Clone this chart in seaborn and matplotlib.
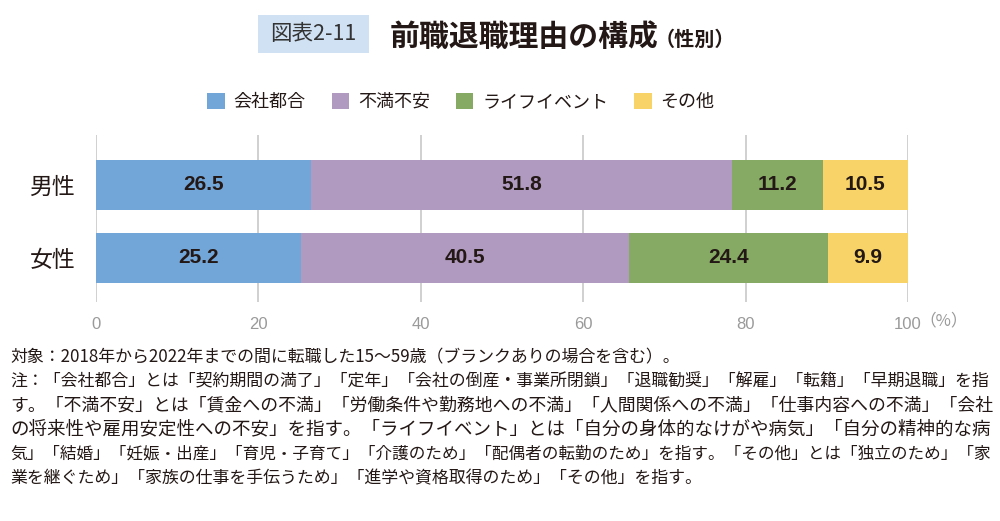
import matplotlib.pyplot as plt
import matplotlib.patches as mpatches
import pandas as pd
import seaborn as sns

# data
genders = ['男性', '女性']
reasons = ['会社都合', '不満不安', 'ライフイベント', 'その他']
male = [26.5, 51.8, 11.2, 10.5]
female = [25.2, 40.5, 24.4, 9.9]
colors = ['#72a5d8', '#b09ac0', '#86aa64', '#f8d468']
xticks = [0, 20, 40, 60, 80, 100]

notes = [
    '対象：2018年から2022年までの間に転職した15～59歳（ブランクありの場合を含む）。',
    '注：「会社都合」とは「契約期間の満了」「定年」「会社の倒産・事業所閉鎖」「退職勧奨」「解雇」「転籍」「早期退職」を指',
    'す。「不満不安」とは「賃金への不満」「労働条件や勤務地への不満」「人間関係への不満」「仕事内容への不満」「会社',
    'の将来性や雇用安定性への不安」を指す。「ライフイベント」とは「自分の身体的なけがや病気」「自分の精神的な病',
    '気」「結婚」「妊娠・出産」「育児・子育て」「介護のため」「配偶者の転勤のため」を指す。「その他」とは「独立のため」「家',
    '業を継ぐため」「家族の仕事を手伝うため」「進学や資格取得のため」「その他」を指す。',
]

rows = []
for g, vals in zip(genders, [male, female]):
    cum = 0
    for r, v in zip(reasons, vals):
        cum += v
        rows.append({'性別': g, '理由': r, '割合': v, '累積': cum})
df = pd.DataFrame(rows)

sns.set_style('white')
plt.rcParams['font.family'] = ['Noto Sans CJK JP', 'DejaVu Sans']
txt = '#231815'

fig = plt.figure(figsize=(10, 5.21), dpi=100)
ax = fig.add_axes([0.096, 1 - 302 / 521, 0.812, 167 / 521])

# stacked bars: draw cumulative totals from the back
for r, c in reversed(list(zip(reasons, colors))):
    sub = df[df['理由'] == r]
    sns.barplot(data=sub, x='累積', y='性別', order=genders, color=c,
                width=0.685, orient='h', errorbar=None, linewidth=0,
                saturation=1, ax=ax)

for i, g in enumerate(genders):
    sub = df[df['性別'] == g]
    for _, row in sub.iterrows():
        ax.text(row['累積'] - row['割合'] / 2, i, f"{row['割合']:.1f}",
                ha='center', va='center', fontsize=15, fontweight='bold',
                family='Liberation Sans', color=txt)

ax.set_xlim(0, 100)
ax.set_ylim(1.603, -0.685)
ax.set_xticks(xticks)
ax.set_xticklabels([str(t) for t in xticks], family='Liberation Sans',
                   fontsize=12, color='#9a9a9a')
ax.tick_params(axis='x', length=0, pad=11)
ax.tick_params(axis='y', length=0, pad=15, labelsize=16.5, labelcolor=txt)
ax.set_xlabel('')
ax.set_ylabel('')
ax.grid(axis='x', color='#c8c8c8', linewidth=1.2)
ax.set_axisbelow(True)
for s in ax.spines.values():
    s.set_visible(False)
ax.text(1.014, -0.115, '（%）', transform=ax.transAxes, ha='left', va='center',
        fontsize=12, color='#9a9a9a')

# title
fig.patches.append(mpatches.Rectangle((258 / 1000, 1 - 53 / 521), 111 / 1000, 38 / 521,
                                      transform=fig.transFigure, facecolor='#cfe1f2',
                                      edgecolor='none'))
fig.text(313.5 / 1000, 1 - 34 / 521, '図表2-11', ha='center', va='center',
         fontsize=15.5, color='#333333')
fig.text(390 / 1000, 1 - 46 / 521, '前職退職理由の構成', ha='left', va='baseline',
         fontsize=21.5, fontweight='bold', color=txt)
fig.text(655 / 1000, 1 - 46 / 521, '（性別）', ha='left', va='baseline',
         fontsize=14.5, fontweight='bold', color=txt)

# legend
handles = [mpatches.Patch(facecolor=c, edgecolor='none', label=r)
           for r, c in zip(reasons, colors)]
fig.legend(handles=handles, loc='center', bbox_to_anchor=(0.461, 1 - 102 / 521),
           ncol=4, frameon=False, fontsize=13, handlelength=0.95, handleheight=0.95,
           handletextpad=0.5, columnspacing=1.45, labelcolor=txt)

# notes: middle lines are justified to the full width, so fit their size
renderer = fig.canvas.get_renderer()
base = 12.2
texts = []
for k, line in enumerate(notes):
    t = fig.text(10 / 1000, 1 - (357 + 24.2 * k) / 521, line, ha='left', va='center',
                 fontsize=base, color=txt)
    texts.append(t)
sizes = []
for t in texts[1:5]:
    w = t.get_window_extent(renderer).width
    s = base * 978 / w
    t.set_fontsize(s)
    sizes.append(s)
for t in (texts[0], texts[5]):
    t.set_fontsize(min(base, sum(sizes) / len(sizes)))

fig.savefig('out.png', dpi=100)
